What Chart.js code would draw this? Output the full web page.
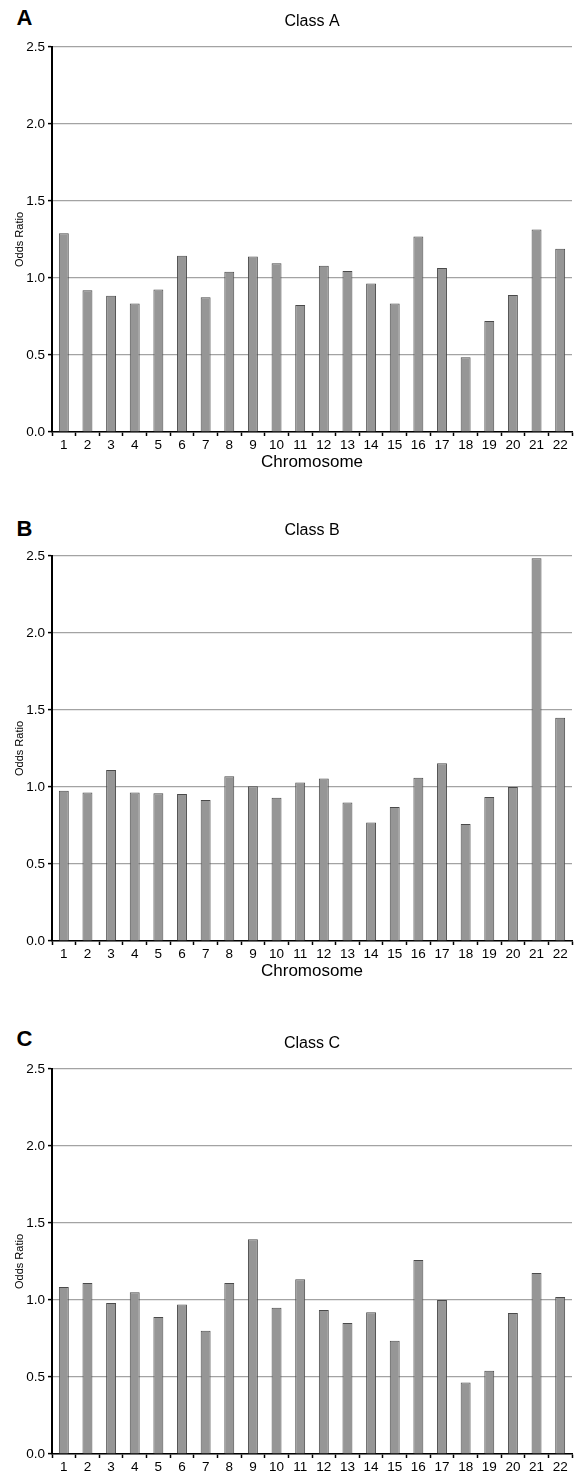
<!DOCTYPE html>
<html>
<head>
<meta charset="utf-8">
<script src="https://cdn.jsdelivr.net/npm/chart.js@4.4.1/dist/chart.umd.min.js"></script>
<style>
  html, body { margin: 0; padding: 0; background: #fff; }
  body { width: 581px; height: 1474px; position: relative; overflow: hidden; }
  .panel { position: absolute; left: 0; width: 581px; }
  .letter { position: absolute; left: 16.5px; font: bold 22px/22px "Liberation Sans", Arial, sans-serif; color: #000; }
</style>
</head>
<body>
<div class="letter" style="top:6.5px">A</div>
<div class="letter" style="top:517.5px">B</div>
<div class="letter" style="top:1028px">C</div>
<div class="panel" style="top:0px;height:490px"><canvas id="cA"></canvas></div>
<div class="panel" style="top:508.7px;height:490px"><canvas id="cB"></canvas></div>
<div class="panel" style="top:1022.3px;height:452px"><canvas id="cC"></canvas></div>
<script>
const categories = ["1","2","3","4","5","6","7","8","9","10","11","12","13","14","15","16","17","18","19","20","21","22"];
const classA = [1.29, 0.92, 0.885, 0.835, 0.925, 1.145, 0.875, 1.04, 1.14, 1.095, 0.825, 1.08, 1.045, 0.965, 0.835, 1.27, 1.065, 0.485, 0.72, 0.89, 1.315, 1.19];
const classB = [0.975, 0.965, 1.11, 0.965, 0.96, 0.955, 0.915, 1.07, 1.005, 0.93, 1.03, 1.055, 0.9, 0.77, 0.87, 1.06, 1.155, 0.76, 0.935, 1.0, 2.485, 1.45];
const classC = [1.085, 1.11, 0.98, 1.05, 0.89, 0.97, 0.8, 1.11, 1.395, 0.95, 1.135, 0.935, 0.85, 0.92, 0.735, 1.26, 1.0, 0.465, 0.54, 0.915, 1.175, 1.02];
const yMin = 0, yMax = 2.5, yStep = 0.5;

const FONT = '"Liberation Sans", Arial, Helvetica, sans-serif';

function makeChart(id, titleText, values, showXTitle, xHeight) {
  const ctx = document.getElementById(id);
  return new Chart(ctx, {
    type: 'bar',
    data: {
      labels: categories,
      datasets: [{
        data: values,
        backgroundColor: '#969696',
        borderColor: '#4a4a4a',
        borderWidth: 1,
        borderSkipped: 'bottom',
        categoryPercentage: 1.0,
        barPercentage: 0.42
      }]
    },
    options: {
      responsive: true,
      maintainAspectRatio: false,
      animation: false,
      layout: { padding: { left: 0, right: 9, top: 0, bottom: 0 } },
      plugins: {
        legend: { display: false },
        tooltip: { enabled: false },
        title: {
          display: true,
          text: titleText,
          fullSize: false,
          color: '#000',
          font: { family: FONT, size: 16, weight: 'normal', lineHeight: 1.2 },
          padding: { top: 11.9, bottom: 15.9 }
        }
      },
      scales: {
        x: {
          type: 'category',
          offset: true,
          afterFit: s => { s.height = xHeight; },
          grid: { display: true, offset: true, drawOnChartArea: false, drawTicks: true, tickLength: 4, tickColor: '#000', tickWidth: 1.5 },
          border: { display: true, color: '#000', width: 1.5 },
          ticks: { color: '#000', font: { family: FONT, size: 13.5 }, padding: 1, maxRotation: 0, autoSkip: false },
          title: { display: showXTitle, text: 'Chromosome', color: '#000', font: { family: FONT, size: 17, lineHeight: 1.2 }, padding: { top: 0, bottom: 17.8 } }
        },
        y: {
          min: yMin, max: yMax,
          afterFit: s => { s.width = 52; },
          grid: { color: '#a3a3a3', lineWidth: 1.2, drawTicks: true, tickLength: 4, tickColor: '#000', tickWidth: 1.5 },
          border: { display: true, color: '#000', width: 2 },
          ticks: { stepSize: yStep, color: '#000', font: { family: FONT, size: 13.5 }, padding: 3, callback: v => Number(v).toFixed(1) },
          title: { display: true, text: 'Odds Ratio', color: '#000', font: { family: FONT, size: 11, lineHeight: 1.2 }, padding: { top: 13.5, bottom: 0 } }
        }
      }
    }
  });
}

makeChart('cA', 'Class A', classA, true, 58);
makeChart('cB', 'Class B', classB, true, 58);
makeChart('cC', 'Class C', classC, false, 20);
</script>
</body>
</html>
